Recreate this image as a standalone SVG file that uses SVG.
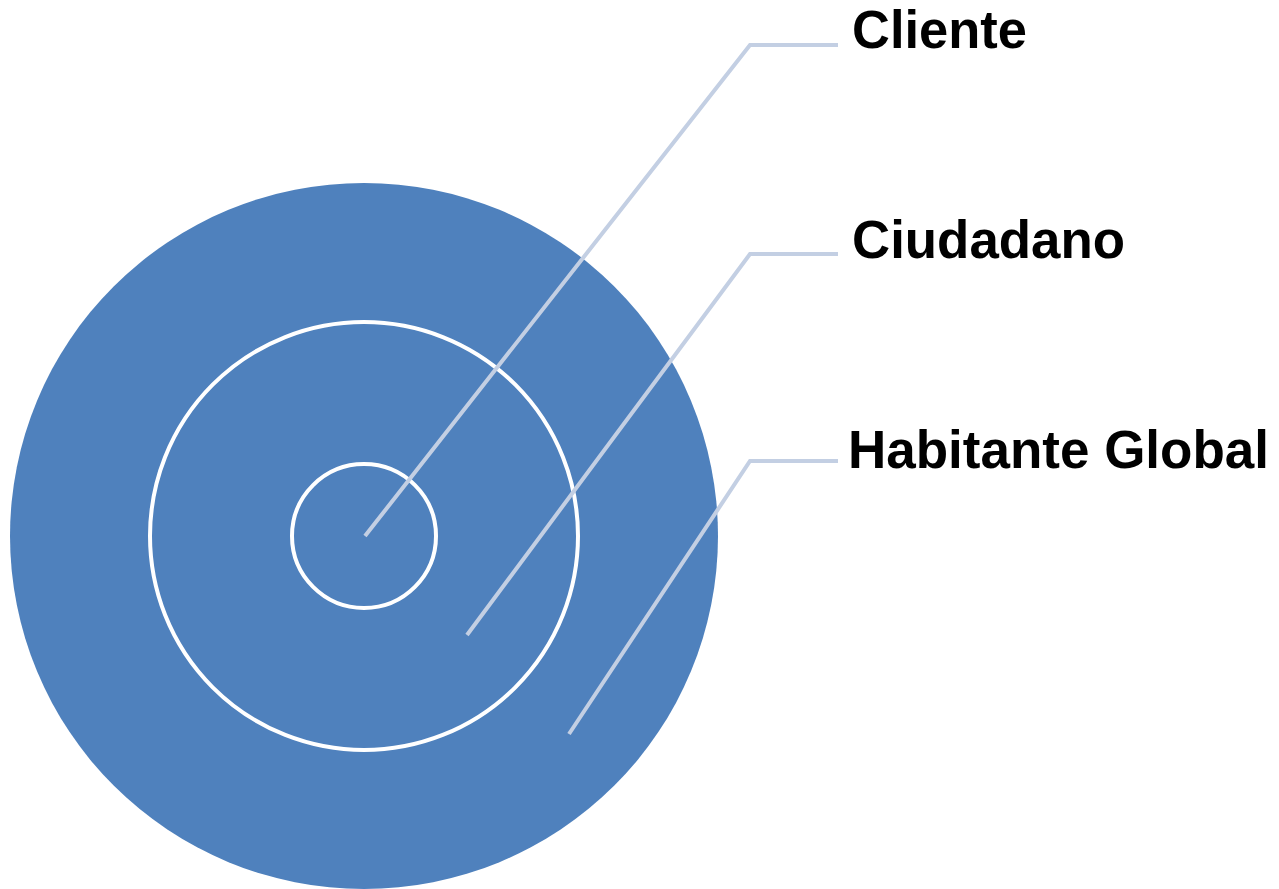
<svg xmlns="http://www.w3.org/2000/svg" width="1279" height="889" viewBox="0 0 1279 889">
<style>
.ring{fill:#4f81bd;stroke:#ffffff;stroke-width:4}
.lead{fill:none;stroke:#c3cfe3;stroke-width:4}
.lbl{font-family:"Liberation Sans",Arial,sans-serif;font-weight:bold;font-size:53px;fill:#000000}
</style>
<rect width="1279" height="889" fill="#ffffff"/>
<g id="habitante-global">
<ellipse cx="364" cy="536" rx="354" ry="353" fill="#4f81bd"/>
</g>
<g id="ciudadano">
<circle class="ring" cx="364" cy="536" r="214"/>
</g>
<g id="cliente">
<circle class="ring" cx="364" cy="536" r="72"/>
</g>
<g id="connectors">
<polyline class="lead" points="365,536 750,45 838,45"/>
<polyline class="lead" points="467,635 750,254 838,254"/>
<polyline class="lead" points="569,734 750,461 838,461"/>
</g>
<g id="labels">
<text class="lbl" x="852" y="48" textLength="175" lengthAdjust="spacingAndGlyphs">Cliente</text>
<text class="lbl" x="852" y="258" textLength="273" lengthAdjust="spacingAndGlyphs">Ciudadano</text>
<text class="lbl" x="848" y="468" textLength="421" lengthAdjust="spacingAndGlyphs">Habitante Global</text>
</g>
</svg>
